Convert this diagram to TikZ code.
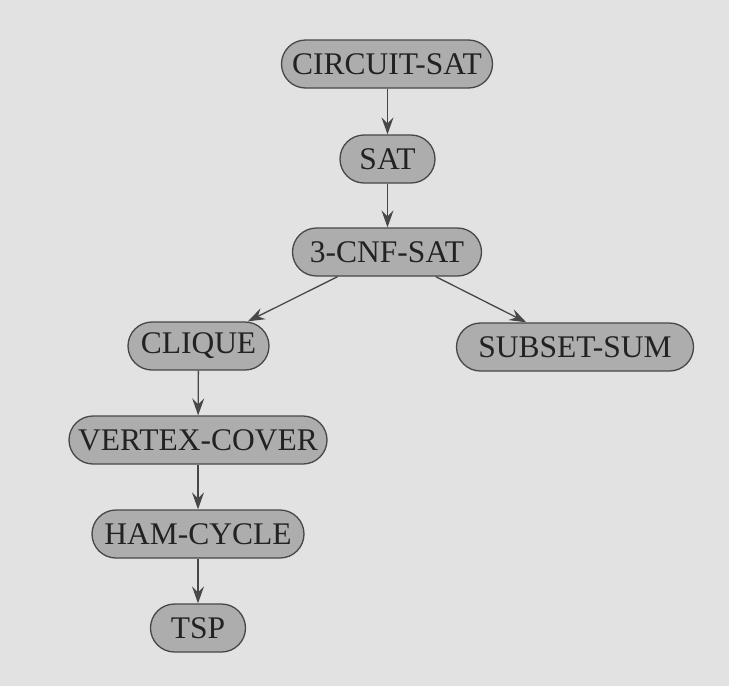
\documentclass[tikz,border=0pt]{standalone}
\usepackage{fontspec}
\setmainfont{Liberation Serif}
\usetikzlibrary{arrows.meta}
\definecolor{bgcol}{HTML}{E2E2E2}
\definecolor{nodecol}{HTML}{ADADAD}
\definecolor{edgecol}{HTML}{474747}
\definecolor{textcol}{HTML}{222222}
\tikzset{
  prob/.style={draw=edgecol, line width=1.3pt, fill=nodecol, rounded corners=24pt,
    minimum height=48pt, inner xsep=0pt, inner ysep=0pt, text=textcol,
    font=\fontsize{31.5}{36}\selectfont},
  red/.style={draw=edgecol, line width=1.3pt,
    -{Stealth[length=17pt,width=12pt,inset=6pt]}}
}
\begin{document}
\begin{tikzpicture}[x=1pt,y=-1pt]
\fill[bgcol] (0,0) rectangle (729,686);
\useasboundingbox (0,0) rectangle (729,686);
\node[prob, minimum width=211pt] (cs) at (387,64) {CIRCUIT-SAT};
\node[prob, minimum width=95pt] (sat) at (387.5,159) {SAT};
\node[prob, minimum width=189pt] (cnf) at (387,252) {3-CNF-SAT};
\node[prob, minimum width=141pt] (clique) at (198.5,346) {CLIQUE};
\node[prob, minimum width=237pt] (subset) at (575,347) {SUBSET-SUM};
\node[prob, minimum width=258pt] (vc) at (198,440) {VERTEX-COVER};
\node[prob, minimum width=212pt] (ham) at (198,534) {HAM-CYCLE};
\node[prob, minimum width=95pt] (tsp) at (198,628) {TSP};
\draw[red] (cs.south -| sat) -- (sat);
\draw[red] (sat) -- (cnf.north -| sat);
\draw[red] (cnf) -- (clique);
\draw[red] (cnf) -- (subset);
\draw[red] (clique) -- (vc);
\draw[red] (vc) -- (ham);
\draw[red] (ham) -- (tsp);
\end{tikzpicture}
\end{document}
